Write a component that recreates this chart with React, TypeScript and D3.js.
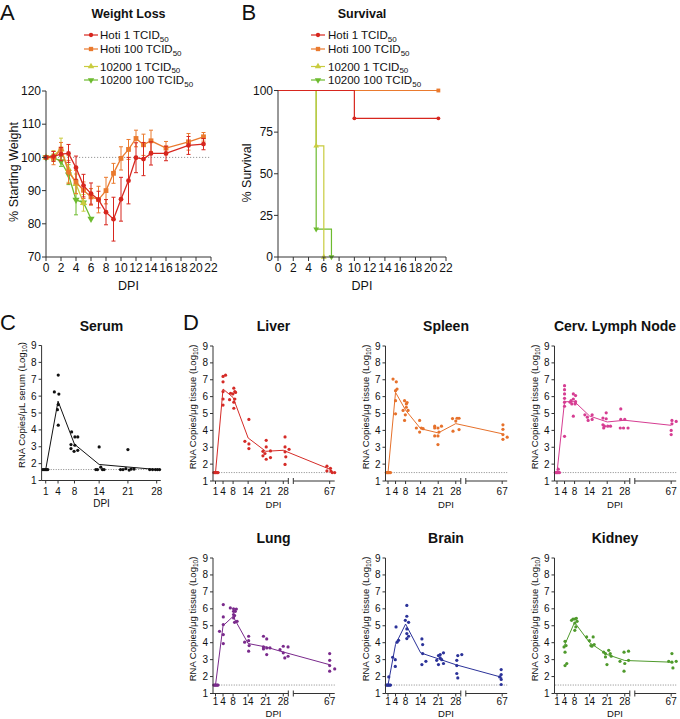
import React from 'react';
import * as d3 from 'd3';

const FONT = '"Liberation Sans", Arial, Helvetica, sans-serif';
const AX = '#333';

// ---------- Panel A: weight loss ----------
const weightDays = [0, 1, 2, 3, 4, 5, 6, 7, 8, 9, 10, 11, 12, 13, 14, 16, 19, 21];
const hoti1Mean = [100, 100.3, 101, 101.2, 96.9, 91.5, 89.1, 87.3, 83.5, 81.4, 87.4, 93, 99.9, 99.5, 101.2, 101.2, 103.6, 104];
const hoti1Err = [0, 1.5, 2, 2.7, 3.5, 3.4, 3.2, 2.5, 3.8, 6.6, 6.6, 7, 4.5, 5, 3.5, 2.2, 2.7, 1.7];
const hoti100Mean = [100, 99.8, 102.5, 95.6, 92.6, 90.1, 88.1, 87.3, 90, 95.2, 99.7, 102.4, 105.7, 103.8, 105, 102.8, 104.7, 106.2];
const hoti100Err = [0, 2, 2, 3.5, 3.5, 2.5, 2.5, 4, 4, 3, 3.5, 3, 2.5, 3.2, 3.2, 2, 2.5, 1.3];
const k1Days = [0, 1, 2, 3, 4, 5];
const k1Mean = [100, 100.5, 102.5, 96.5, 92, 86.3];
const k1Err = [0, 1.5, 3.3, 4, 3, 2.5];
const k100Days = [0, 1, 2, 3, 4, 5, 6];
const k100Mean = [100, 100, 98.8, 94.8, 87.2, 86.4, 81.5];
const k100Err = [0, 1, 1.5, 3, 4.5, 0, 0];
const weightYTicks = [70, 80, 90, 100, 110, 120];
const dayTicks = [0, 2, 4, 6, 8, 10, 12, 14, 16, 18, 20, 22];

// ---------- Panel B: survival ----------
const survHoti1T = [0, 10, 21];
const survHoti1V = [100, 83.3, 83.3];
const survHoti100T = [0, 21];
const survHoti100V = [100, 100];
const surv1T = [0, 5, 6];
const surv1V = [100, 66.7, 0];
const surv100T = [0, 5, 7];
const surv100V = [100, 16.7, 0];
const survYTicks = [0, 25, 50, 75, 100];

const legendLabels = ['Hoti 1 TCID', 'Hoti 100 TCID', '10200 1 TCID', '10200 100 TCID'];
const seriesColors = ['#d7261e', '#ea7a2e', '#c9cc3f', '#6dbb2f'];

// ---------- Panel C: serum ----------
const serumPts: [number, number][] = [
  [0.3, 1.65], [0.6, 1.65], [0.9, 1.65], [1.2, 1.65], [1.5, 1.65],
  [3.1, 6.25], [4.05, 7.25], [4.2, 6.12], [4.05, 5.5], [3.85, 5.2], [4.05, 4.28],
  [7.3, 3.88], [8.8, 3.58], [8.1, 3.58], [7.15, 3.13], [8.1, 3.09], [7.15, 2.89], [7.9, 2.73], [8.8, 2.79],
  [14, 2.99], [13.2, 1.65], [13.6, 1.65], [14.4, 1.79], [14.8, 1.65], [15.2, 1.65],
  [21, 2.83], [19.2, 1.65], [19.8, 1.65], [20.5, 1.7], [21.3, 1.62], [21.8, 1.68], [22.5, 1.68],
  [26.3, 1.65], [27, 1.65], [27.7, 1.65], [28.2, 1.65], [28.7, 1.65],
];
const serumMeanDays = [1, 4, 8, 14, 21, 28];
const serumMean = [1.65, 5.7, 3.15, 1.95, 1.8, 1.65];
const serumTicks = [1, 4, 8, 14, 21, 28];

// ---------- Panel D: tissues ----------
const organDays = [1, 4, 8, 14, 21, 28, 67];
const organTicks = [1, 4, 8, 14, 21, 28, 67];
const logTicks = [1, 2, 3, 4, 5, 6, 7, 8, 9];

const liverPts: [number, number][] = [
  [0.3, 1.5], [0.7, 1.5], [1.0, 1.5], [1.3, 1.5], [1.7, 1.5], [2.0, 1.5],
  [4.0, 7.2], [5.0, 7.27], [4.0, 6.88], [4.0, 6.3], [4.0, 5.86], [4.0, 5.5],
  [6.6, 5.82], [7.0, 6.2], [8.3, 6.5], [8.7, 6.3], [7.9, 6.16], [8.7, 5.86], [8.3, 5.67], [8.3, 5.31], [9.0, 6.25],
  [14.3, 4.65], [12.7, 3.35], [14.3, 3.2], [14.3, 2.92],
  [21.2, 3.41], [21.2, 3.02], [19.9, 2.76], [20.7, 2.63], [22.9, 2.78], [19.9, 2.49], [21.2, 2.29], [22.9, 2.39],
  [28.7, 3.61], [28.7, 3.02], [30.3, 2.88], [28.7, 2.73], [29.0, 2.43], [28.7, 1.98],
  [65.9, 1.88], [67.3, 1.75], [67.5, 1.59], [68.0, 1.5], [69.0, 1.5], [65.9, 1.6],
];
const liverMean = [1.5, 6.45, 5.95, 3.55, 2.76, 2.82, 1.7];

const spleenPts: [number, number][] = [
  [0.3, 1.5], [0.7, 1.5], [1.0, 1.5], [1.3, 1.5], [1.7, 1.5], [2.0, 1.5],
  [3.0, 7.04], [4.3, 6.88], [4.0, 6.35], [4.6, 6.45], [4.0, 5.76], [4.0, 4.98],
  [7.6, 5.76], [8.3, 5.57], [7.0, 5.18], [7.9, 4.92], [7.6, 4.59], [9.0, 5.18], [8.3, 5.37], [8.6, 5.65],
  [13.6, 4.59], [12.3, 4.14], [13.6, 3.9], [14.3, 4.14], [15.0, 4.1],
  [19.6, 4.25], [19.6, 4.14], [20.9, 4.14], [22.3, 4.25], [19.6, 3.67], [20.9, 3.67], [21.3, 3.9], [20.9, 3.16],
  [26.7, 4.7], [28.0, 4.55], [28.5, 4.72], [29.3, 4.72], [26.9, 3.95], [29.3, 4.05],
  [67.3, 4.33], [67.3, 4.06], [67.3, 3.75], [67.3, 3.47], [69.0, 3.6],
];
const spleenMean = [1.5, 6.25, 5.2, 4.1, 3.85, 4.4, 3.8];

const cervPts: [number, number][] = [
  [0.3, 1.5], [0.7, 1.5], [1.0, 1.5], [1.3, 1.5], [1.7, 1.5], [2.0, 1.5], [1.5, 1.7],
  [4, 6.65], [4, 6.41], [4, 6.16], [4, 5.9], [4, 5.67], [4, 5.43], [4, 3.65],
  [7.5, 6.16], [8.4, 6.06], [6.6, 5.76], [7.5, 5.86], [8.4, 5.7], [6.9, 5.57], [8.2, 5.57], [7.5, 4.84], [6.2, 5.67],
  [12.1, 4.92], [13.1, 4.78], [15, 4.92], [13.4, 4.59], [15, 4.65],
  [19.3, 4.73], [20.6, 5.04], [20.6, 4.69], [19.3, 4.33], [19.9, 4.25], [21.2, 4.25], [22.3, 4.25], [19.6, 4.14],
  [26.4, 5.27], [26.4, 4.65], [28, 4.65], [26.2, 4.14], [27.5, 4.14], [29.3, 4.14],
  [67.3, 4.59], [69, 4.53], [67.3, 4.39], [67, 4.0], [67, 3.75],
];
const cervMean = [1.5, 5.7, 5.7, 4.85, 4.5, 4.6, 4.3];

const lungPts: [number, number][] = [
  [0.3, 1.5], [0.7, 1.5], [1.0, 1.5], [1.3, 1.5], [1.7, 1.5], [2.0, 1.5],
  [2.6, 4.67], [4.1, 6.25], [4.1, 5.52], [4.1, 5.07], [4.1, 4.48], [4.1, 3.95],
  [6.9, 6.05], [8.2, 5.85], [8.2, 5.66], [8.9, 5.85], [8.6, 5.6], [8.2, 5.46], [8.6, 5.2], [9.6, 5.26], [8.2, 6.0], [9.3, 5.99],
  [12.6, 4.03], [14.2, 4.38], [14.2, 4.12], [14.4, 3.83], [14.2, 3.5],
  [20.1, 4.38], [21.4, 4.22], [20.1, 3.75], [20.1, 3.63], [21.4, 3.69], [22.7, 3.69], [21.4, 3.3],
  [26.7, 3.59], [28, 3.79], [29.9, 3.75], [28, 3.4], [28.6, 3.1], [29.9, 3.2],
  [67, 3.36], [67, 2.96], [67, 2.65], [67, 2.32], [69, 2.45],
];
const lungMean = [1.5, 5.0, 5.55, 3.95, 3.75, 3.45, 2.7];

const brainPts: [number, number][] = [
  [0.3, 1.5], [0.7, 1.5], [1.0, 1.5], [1.3, 1.5], [1.7, 1.5], [2.0, 1.5], [1.3, 1.98],
  [2.85, 3.14], [3.9, 3.0], [3.9, 2.6], [4.2, 4.93], [4.6, 4.03], [5.2, 4.14],
  [8.5, 6.2], [8.5, 5.56], [7.9, 5.32], [9.2, 5.2], [8.5, 4.81], [8.5, 4.54], [9.2, 4.38], [8.5, 4.24],
  [14.5, 4.22], [14.8, 3.89], [14.8, 3.36], [14.5, 2.71], [16.1, 2.9],
  [21.1, 3.24], [21.8, 3.1], [20.4, 2.96], [22.4, 3.0], [21.1, 2.71], [23.1, 2.77], [23.1, 3.4], [21.8, 3.3],
  [28.8, 3.24], [30.4, 3.3], [28.4, 2.96], [28.4, 2.65], [28.4, 2.18], [28.8, 1.92],
  [66.6, 2.41], [66.6, 2.12], [66, 1.98], [66.6, 1.83], [66.6, 1.53],
];
const brainMean = [1.5, 3.9, 5.1, 3.4, 3.05, 2.7, 1.95];

const kidneyPts: [number, number][] = [
  [4.2, 4.08], [4.6, 3.83], [3.8, 3.75], [4.2, 3.44], [4.9, 2.77], [4.2, 2.65],
  [6.8, 5.32], [8.1, 5.4], [8.7, 5.44], [7.4, 5.4], [9.0, 5.26], [8.1, 5.16], [8.5, 4.93], [8.1, 4.73],
  [12.8, 4.34], [15.4, 4.34], [13.9, 4.12], [14.5, 3.83], [14.9, 3.79], [15.8, 3.89],
  [19.6, 3.44], [20.3, 3.36], [21.6, 3.55], [22.2, 3.36], [20.3, 3.16], [22.6, 3.2], [20.9, 2.71],
  [26.1, 2.9], [27.7, 3.44], [29.5, 3.5], [28, 2.77], [27.7, 2.32], [29.5, 2.96],
  [67.3, 3.36], [67.3, 2.85], [66, 2.9], [67.7, 2.51], [69, 2.9],
];
const kidneyDays = [4, 8, 14, 21, 28, 67];
const kidneyMean = [3.85, 5.2, 4.0, 3.3, 2.95, 2.85];

// ---------- helpers ----------
function Marker({ kind, x, y, color, size = 1 }: { kind: number; x: number; y: number; color: string; size?: number }) {
  if (kind === 0) return <circle cx={x} cy={y} r={2.4 * size} fill={color} />;
  if (kind === 1) return <rect x={x - 2.4 * size} y={y - 2.4 * size} width={4.8 * size} height={4.8 * size} fill={color} />;
  const p = d3.symbol().type(d3.symbolTriangle).size(22 * size * size)() as string;
  return <path d={p} transform={`translate(${x},${y}) rotate(${kind === 3 ? 180 : 0})`} fill={color} />;
}

function LegendLabel({ x, y, text }: { x: number; y: number; text: string }) {
  return (
    <text x={x} y={y + 4} fontSize={11.5} fill="#111">
      {text}
      <tspan fontSize={8} dy={2.5}>50</tspan>
    </text>
  );
}

function Legend({ mx, tx }: { mx: number; tx: number }) {
  const rows = [35, 49, 66.5, 80];
  return (
    <g>
      {legendLabels.map((l, i) => (
        <g key={l}>
          <line x1={mx - 7} x2={mx + 7} y1={rows[i]} y2={rows[i]} stroke={seriesColors[i]} strokeWidth={1.2} />
          <Marker kind={i} x={mx} y={rows[i]} color={seriesColors[i]} size={0.9} />
          <LegendLabel x={tx} y={rows[i]} text={l} />
        </g>
      ))}
    </g>
  );
}

function PanelA() {
  const x = d3.scaleLinear().domain([0, 22]).range([46, 211]);
  const y = d3.scaleLinear().domain([70, 120]).range([257, 91]);
  const series = [
    { days: weightDays, m: hoti1Mean, e: hoti1Err },
    { days: weightDays, m: hoti100Mean, e: hoti100Err },
    { days: k1Days, m: k1Mean, e: k1Err },
    { days: k100Days, m: k100Mean, e: k100Err },
  ];
  const order = [3, 2, 1, 0];
  return (
    <g>
      <text x={0} y={20} fontSize={22} fill="#111">A</text>
      <text x={128.5} y={18} fontSize={12.5} fontWeight="bold" textAnchor="middle" fill="#111">Weight Loss</text>
      <Legend mx={91} tx={100} />
      <line x1={x(0)} x2={x(22)} y1={y(100)} y2={y(100)} stroke="#999" strokeDasharray="1.2,1.8" />
      {order.map((si) => {
        const s = series[si];
        const c = seriesColors[si];
        const ln = d3.line<number>().x((_, i) => x(s.days[i])).y((d) => y(d));
        return (
          <g key={si}>
            {s.m.map((v, i) => s.e[i] > 0 ? (
              <g key={i}>
                <line x1={x(s.days[i])} x2={x(s.days[i])} y1={y(v - s.e[i])} y2={y(v + s.e[i])} stroke={c} strokeWidth={1} />
                <line x1={x(s.days[i]) - 2} x2={x(s.days[i]) + 2} y1={y(v - s.e[i])} y2={y(v - s.e[i])} stroke={c} strokeWidth={1} />
                <line x1={x(s.days[i]) - 2} x2={x(s.days[i]) + 2} y1={y(v + s.e[i])} y2={y(v + s.e[i])} stroke={c} strokeWidth={1} />
              </g>
            ) : null)}
            <path d={ln(s.m) as string} fill="none" stroke={c} strokeWidth={1.3} />
            {s.m.map((v, i) => <Marker key={i} kind={si} x={x(s.days[i])} y={y(v)} color={c} />)}
          </g>
        );
      })}
      <line x1={x(0)} x2={x(0)} y1={y(70)} y2={y(120)} stroke={AX} />
      <line x1={x(0)} x2={x(22)} y1={y(70)} y2={y(70)} stroke={AX} />
      {weightYTicks.map((t) => (
        <g key={t}>
          <line x1={x(0) - 4} x2={x(0)} y1={y(t)} y2={y(t)} stroke={AX} />
          <text x={x(0) - 5} y={y(t)} dy="0.35em" fontSize={12} textAnchor="end" fill="#111">{t}</text>
        </g>
      ))}
      {dayTicks.map((t) => (
        <g key={t}>
          <line x1={x(t)} x2={x(t)} y1={y(70)} y2={y(70) + 4} stroke={AX} />
          <text x={x(t)} y={y(70) + 15} fontSize={12} textAnchor="middle" fill="#111">{t}</text>
        </g>
      ))}
      <text x={128.5} y={290} fontSize={12.5} textAnchor="middle" fill="#111">DPI</text>
      <text transform={`translate(17.5,172) rotate(-90)`} fontSize={12.5} textAnchor="middle" fill="#111">% Starting Weight</text>
    </g>
  );
}

function PanelB() {
  const x = d3.scaleLinear().domain([0, 22]).range([278, 446]);
  const y = d3.scaleLinear().domain([0, 100]).range([257, 90.5]);
  const series = [
    { t: surv100T, v: surv100V, si: 3 },
    { t: surv1T, v: surv1V, si: 2 },
    { t: survHoti100T, v: survHoti100V, si: 1 },
    { t: survHoti1T, v: survHoti1V, si: 0 },
  ];
  return (
    <g>
      <text x={241.5} y={20} fontSize={22} fill="#111">B</text>
      <text x={362} y={18} fontSize={12.5} fontWeight="bold" textAnchor="middle" fill="#111">Survival</text>
      <Legend mx={318} tx={328} />
      {series.map((s) => {
        const c = seriesColors[s.si];
        const ln = d3.line<number>().x((_, i) => x(s.t[i])).y((d) => y(d)).curve(d3.curveStepAfter);
        return (
          <g key={s.si}>
            <path d={ln(s.v) as string} fill="none" stroke={c} strokeWidth={1.2} />
            {s.v.map((v, i) => i > 0 ? <Marker key={i} kind={s.si} x={x(s.t[i])} y={y(v)} color={c} size={0.8} /> : null)}
          </g>
        );
      })}
      <line x1={x(0)} x2={x(0)} y1={y(0)} y2={y(100)} stroke={AX} />
      <line x1={x(0)} x2={x(22)} y1={y(0)} y2={y(0)} stroke={AX} />
      {survYTicks.map((t) => (
        <g key={t}>
          <line x1={x(0) - 4} x2={x(0)} y1={y(t)} y2={y(t)} stroke={AX} />
          <text x={x(0) - 5} y={y(t)} dy="0.35em" fontSize={12} textAnchor="end" fill="#111">{t}</text>
        </g>
      ))}
      {dayTicks.map((t) => (
        <g key={t}>
          <line x1={x(t)} x2={x(t)} y1={y(0)} y2={y(0) + 4} stroke={AX} />
          <text x={x(t)} y={y(0) + 15} fontSize={12} textAnchor="middle" fill="#111">{t}</text>
        </g>
      ))}
      <text x={362} y={290} fontSize={12.5} textAnchor="middle" fill="#111">DPI</text>
      <text transform={`translate(251,173) rotate(-90)`} fontSize={12.5} textAnchor="middle" fill="#111">% Survival</text>
    </g>
  );
}

function YLabel({ x, y, unit }: { x: number; y: number; unit: string }) {
  return (
    <text transform={`translate(${x},${y}) rotate(-90)`} fontSize={9.5} textAnchor="middle" fill="#111">
      {`RNA Copies/${unit} (Log`}
      <tspan fontSize={6.5} dy={2}>10</tspan>
      <tspan dy={-2}>)</tspan>
    </text>
  );
}

function SerumPanel() {
  const x = d3.scaleLinear().domain([0, 29]).range([41.6, 160.8]);
  const y = d3.scaleLinear().domain([1, 9]).range([480.5, 345.5]);
  const ln = d3.line<number>().x((_, i) => x(serumMeanDays[i])).y((d) => y(d));
  return (
    <g>
      <text x={0} y={330} fontSize={22} fill="#111">C</text>
      <text x={101.5} y={331} fontSize={14} fontWeight="bold" textAnchor="middle" fill="#111">Serum</text>
      <line x1={x(1)} x2={x(28.8)} y1={y(1.65)} y2={y(1.65)} stroke="#888" strokeDasharray="1,1.5" />
      <path d={ln(serumMean) as string} fill="none" stroke="#111" strokeWidth={1} />
      {serumPts.map((p, i) => <circle key={i} cx={x(p[0])} cy={y(p[1])} r={1.6} fill="#111" />)}
      <line x1={x(0)} x2={x(0)} y1={y(1)} y2={y(9)} stroke={AX} />
      <line x1={x(0)} x2={x(29)} y1={y(1)} y2={y(1)} stroke={AX} />
      {logTicks.map((t) => (
        <g key={t}>
          <line x1={x(0) - 3} x2={x(0)} y1={y(t)} y2={y(t)} stroke={AX} />
          <text x={x(0) - 5} y={y(t)} dy="0.35em" fontSize={10} textAnchor="end" fill="#111">{t}</text>
        </g>
      ))}
      {serumTicks.map((t) => (
        <g key={t}>
          <line x1={x(t)} x2={x(t)} y1={y(1)} y2={y(1) + 3} stroke={AX} />
          <text x={x(t)} y={y(1) + 14} fontSize={10} textAnchor="middle" fill="#111">{t}</text>
        </g>
      ))}
      <text x={101.5} y={507} fontSize={10} textAnchor="middle" fill="#111">DPI</text>
      <YLabel x={25} y={405} unit="μL serum" />
    </g>
  );
}

type OrganProps = {
  ax: number; top: number; bottom: number; title: string; color: string;
  pts: [number, number][]; days: number[]; mean: number[]; tickY: number; dpiY: number;
};

function OrganPanel({ ax, top, bottom, title, color, pts, days, mean, tickY, dpiY }: OrganProps) {
  const y = d3.scaleLinear().domain([1, 9]).range([bottom, top]);
  const s1 = d3.scaleLinear().domain([0, 30]).range([ax, ax + 75.3]);
  const s2 = d3.scaleLinear().domain([52.5, 69]).range([ax + 80.3, ax + 121.7]);
  const x = (d: number) => (d < 45 ? s1(d) : s2(d));
  const ln = d3.line<number>().x((_, i) => x(days[i])).y((d) => y(d));
  return (
    <g>
      <text x={ax + 60.5} y={top - 15} fontSize={14} fontWeight="bold" textAnchor="middle" fill="#111">{title}</text>
      <line x1={x(0.3)} x2={x(69)} y1={y(1.5)} y2={y(1.5)} stroke="#888" strokeDasharray="1,1.5" />
      <path d={ln(mean) as string} fill="none" stroke={color} strokeWidth={1} />
      {pts.map((p, i) => <circle key={i} cx={x(p[0])} cy={y(p[1])} r={1.6} fill={color} />)}
      <line x1={ax} x2={ax} y1={y(1)} y2={y(9)} stroke={AX} />
      <line x1={s1(0)} x2={s1(30)} y1={bottom} y2={bottom} stroke={AX} />
      <line x1={s2(52.5)} x2={s2(69)} y1={bottom} y2={bottom} stroke={AX} />
      <line x1={s1(30)} x2={s1(30)} y1={bottom - 3} y2={bottom + 3} stroke={AX} />
      <line x1={s2(52.5)} x2={s2(52.5)} y1={bottom - 3} y2={bottom + 3} stroke={AX} />
      {logTicks.map((t) => (
        <g key={t}>
          <line x1={ax - 3} x2={ax} y1={y(t)} y2={y(t)} stroke={AX} />
          <text x={ax - 5} y={y(t)} dy="0.35em" fontSize={10} textAnchor="end" fill="#111">{t}</text>
        </g>
      ))}
      {organTicks.map((t) => (
        <g key={t}>
          <line x1={x(t)} x2={x(t)} y1={bottom} y2={bottom + 3} stroke={AX} />
          <text x={x(t)} y={tickY} fontSize={10} textAnchor="middle" fill="#111">{t}</text>
        </g>
      ))}
      <text x={ax + 60.5} y={dpiY} fontSize={9.5} textAnchor="middle" fill="#111">DPI</text>
      <YLabel x={ax - 17} y={top + 61} unit="μg tissue" />
    </g>
  );
}

const organs: OrganProps[] = [
  { ax: 213, top: 346, bottom: 481, tickY: 495, dpiY: 507.5, title: 'Liver', color: '#d52b27', pts: liverPts, days: organDays, mean: liverMean },
  { ax: 385.5, top: 346, bottom: 481, tickY: 495, dpiY: 507.5, title: 'Spleen', color: '#e6712b', pts: spleenPts, days: organDays, mean: spleenMean },
  { ax: 554.5, top: 346, bottom: 481, tickY: 495, dpiY: 507.5, title: 'Cerv. Lymph Node', color: '#d63d92', pts: cervPts, days: organDays, mean: cervMean },
  { ax: 213, top: 558, bottom: 693.5, tickY: 705, dpiY: 716.5, title: 'Lung', color: '#7a2a8c', pts: lungPts, days: organDays, mean: lungMean },
  { ax: 385.5, top: 558, bottom: 693.5, tickY: 705, dpiY: 716.5, title: 'Brain', color: '#2b3299', pts: brainPts, days: organDays, mean: brainMean },
  { ax: 554.5, top: 558, bottom: 693.5, tickY: 705, dpiY: 716.5, title: 'Kidney', color: '#4f9a2c', pts: kidneyPts, days: kidneyDays, mean: kidneyMean },
];

export default function App() {
  return (
    <svg width={680} height={719} style={{ position: 'absolute', left: 0, top: 0, background: '#fff' }} fontFamily={FONT}>
      <rect width={680} height={719} fill="#fff" />
      <PanelA />
      <PanelB />
      <SerumPanel />
      <text x={183} y={330} fontSize={22} fill="#111">D</text>
      {organs.map((o) => <OrganPanel key={o.title} {...o} />)}
    </svg>
  );
}
